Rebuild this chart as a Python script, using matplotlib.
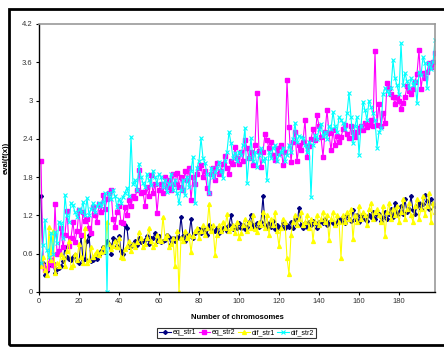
import matplotlib
matplotlib.use("Agg")
import matplotlib.pyplot as plt
from matplotlib.patches import Rectangle

plt.rcParams['font.family'] = ['Liberation Sans', 'DejaVu Sans']

eq_str1 = [
    1.50, 0.45, 0.27, 0.33, 0.42, 0.50, 0.45, 0.30, 0.36, 0.38,
    0.40, 0.48, 0.70, 0.55, 0.52, 0.50, 0.55, 0.58, 0.48, 0.45,
    0.88, 0.50, 0.52, 0.80, 0.90, 0.48, 0.50, 0.55, 0.52, 0.58,
    0.65, 0.70, 0.62, 0.80, 0.75, 0.60, 0.85, 0.82, 0.72, 0.88,
    0.65, 0.60, 1.05, 1.00, 0.70, 0.72, 0.75, 0.80, 0.74, 0.85,
    0.78, 0.80, 0.82, 0.88, 0.76, 0.85, 0.84, 0.92, 0.80, 0.88,
    0.78, 0.80, 0.82, 0.90, 0.86, 0.75, 0.85, 0.80, 0.86, 0.84,
    1.18, 0.88, 0.80, 0.90, 0.88, 1.15, 0.85, 0.92, 0.95, 0.98,
    0.92, 1.00, 0.95, 0.90, 1.05, 0.98, 0.96, 0.95, 1.00, 0.92,
    0.96, 1.00, 1.02, 0.95, 1.05, 1.20, 0.98, 1.02, 1.00, 1.08,
    1.00, 1.05, 0.98, 1.02, 1.10, 1.20, 1.05, 1.00, 1.08, 1.02,
    1.10, 1.50, 1.05, 1.00, 1.08, 1.02, 1.12, 0.98, 1.05, 1.00,
    1.02, 1.08, 1.00, 1.05, 1.02, 1.10, 1.00, 1.15, 1.05, 1.32,
    1.05, 1.00, 1.08, 1.02, 1.10, 1.05, 1.12, 1.08, 1.00, 1.10,
    1.12, 1.08, 1.15, 1.05, 1.10, 1.12, 1.08, 1.05, 1.10, 1.15,
    1.12, 1.18, 1.08, 1.20, 1.15, 1.12, 1.28, 1.15, 1.20, 1.10,
    1.18, 1.22, 1.15, 1.12, 1.20, 1.18, 1.25, 1.15, 1.20, 1.22,
    1.12, 1.18, 1.25, 1.15, 1.22, 1.30, 1.18, 1.40, 1.20, 1.25,
    1.35, 1.22, 1.45, 1.25, 1.30, 1.50, 1.28, 1.22, 1.35, 1.40,
    1.30, 1.38, 1.52, 1.42, 1.30, 1.45, 1.38, 1.35,
]

eq_str2 = [
    2.05, 0.40, 0.35, 0.38, 0.45, 0.50, 0.42, 1.38, 0.60, 0.65,
    1.00, 0.70, 0.90, 1.27, 0.72, 0.85, 1.10, 0.78, 0.95, 1.28,
    0.90, 1.25, 1.11, 1.15, 1.00, 0.92, 1.33, 1.20, 1.10, 1.38,
    1.25, 1.52, 1.30, 1.45, 1.55, 1.60, 1.15, 1.02, 1.25, 1.35,
    1.10, 1.08, 1.33, 1.20, 1.44, 1.35, 1.50, 1.47, 1.60, 1.91,
    1.55, 1.57, 1.35, 1.65, 1.50, 1.83, 1.55, 1.70, 1.24, 1.60,
    1.70, 1.55, 1.80, 1.65, 1.75, 1.60, 1.85, 1.70, 1.87, 1.65,
    1.80, 1.60, 1.90, 1.75, 1.94, 1.44, 1.80, 1.70, 1.85, 1.95,
    1.99, 1.80, 1.90, 1.63, 1.55, 1.85, 1.95, 1.75, 2.02, 1.85,
    1.90, 2.00, 2.13, 1.95, 1.85, 2.05, 2.00, 2.27, 2.10, 2.00,
    2.20, 2.05, 2.38, 2.26, 2.10, 2.19, 1.99, 2.30, 3.12, 2.21,
    1.96, 2.20, 2.48, 2.38, 2.25, 2.35, 2.15, 2.07, 2.25, 2.18,
    2.30, 1.99, 2.20, 3.32, 2.59, 2.04, 2.35, 2.51, 2.05, 2.30,
    2.22, 2.35, 2.70, 2.12, 2.29, 2.40, 2.55, 2.38, 2.77, 2.60,
    2.43, 2.12, 2.50, 2.85, 2.49, 2.22, 2.54, 2.30, 2.45, 2.35,
    2.43, 2.55, 2.62, 2.48, 2.41, 2.60, 2.51, 2.43, 2.50, 2.57,
    2.60, 2.54, 2.65, 2.58, 2.62, 2.70, 2.60, 3.78, 2.62, 2.95,
    2.60, 2.80, 2.65, 3.27, 3.20, 3.10, 3.06, 2.95, 3.05, 3.00,
    2.87, 2.96, 3.05, 3.23, 3.15, 3.10, 3.18, 3.29, 3.42, 3.80,
    3.18, 3.43, 3.35, 3.45, 3.59, 3.53, 3.60, 3.74,
]

dif_str1 = [
    0.40, 0.55, 0.35, 0.27, 1.02, 0.50, 0.95, 0.30, 0.45, 0.40,
    0.60, 0.55, 0.40, 0.65, 0.80, 0.39, 0.42, 0.60, 0.50, 0.75,
    0.55, 0.45, 1.00, 0.45, 0.50, 0.70, 0.55, 0.60, 0.65, 0.58,
    0.62, 0.70, 0.65, 1.10, 0.75, 0.68, 0.72, 0.80, 0.70, 0.85,
    0.55, 0.53, 0.68, 0.72, 0.80, 0.65, 0.75, 0.70, 0.78, 0.94,
    0.85, 0.70, 0.75, 0.85, 1.00, 0.80, 0.70, 0.75, 0.90, 0.82,
    0.80, 1.18, 0.85, 0.90, 0.70, 0.75, 0.85, 0.40, 0.95, 0.00,
    0.85, 0.80, 0.95, 0.85, 0.90, 0.62, 0.88, 0.95, 1.00, 0.85,
    0.95, 1.05, 0.90, 1.00, 1.38, 0.95, 1.05, 0.58, 0.90, 1.05,
    0.95, 1.10, 1.00, 1.22, 0.95, 1.00, 1.05, 0.92, 1.10, 0.85,
    0.92, 1.05, 1.15, 0.95, 1.10, 1.00, 1.20, 0.98, 0.94, 1.10,
    1.05, 1.25, 1.00, 1.20, 0.90, 1.15, 1.05, 1.25, 0.95, 0.72,
    1.00, 1.15, 1.10, 0.53, 0.28, 0.90, 1.10, 1.20, 1.05, 1.15,
    1.25, 1.05, 1.10, 1.20, 1.00, 1.15, 0.80, 1.10, 1.20, 1.05,
    1.15, 1.25, 1.10, 1.20, 0.82, 1.15, 1.25, 1.05, 1.20, 1.10,
    0.53, 1.20, 1.10, 1.25, 1.15, 1.30, 0.83, 1.20, 1.10, 1.35,
    1.15, 1.25, 1.20, 1.05, 1.30, 1.40, 1.15, 1.25, 1.30, 1.20,
    1.10, 1.35, 0.88, 1.25, 1.40, 1.15, 1.30, 1.20, 1.35, 1.10,
    1.25, 1.45, 1.15, 1.30, 1.40, 1.20, 1.10, 1.35, 1.45, 1.15,
    1.30, 1.50, 1.20, 1.35, 1.55, 1.10, 1.40, 1.25,
]

dif_str2 = [
    0.45, 0.74, 1.13, 0.66, 0.55, 0.92, 0.60, 0.94, 0.77, 1.10,
    1.08, 0.85, 1.52, 1.20, 1.10, 1.39, 1.36, 1.25, 1.18, 1.30,
    1.25, 1.41, 1.20, 1.47, 1.21, 1.30, 1.39, 1.25, 1.35, 1.40,
    1.35, 1.41, 1.55, 0.00, 1.55, 1.45, 1.60, 1.50, 1.33, 1.45,
    1.40, 1.49, 1.55, 1.63, 1.50, 2.43, 1.69, 1.75, 1.60, 2.01,
    1.80, 1.71, 1.65, 1.85, 1.75, 1.68, 1.90, 1.80, 1.70, 1.85,
    1.80, 1.65, 1.75, 1.57, 1.70, 1.85, 1.60, 1.75, 1.55, 1.39,
    1.60, 1.75, 1.52, 1.80, 1.65, 1.90, 2.12, 1.39, 1.95, 2.05,
    2.41, 2.10, 2.02, 1.85, 1.55, 1.95, 1.80, 1.88, 1.95, 2.04,
    1.90, 1.79, 2.05, 2.20, 2.51, 2.33, 2.10, 2.18, 2.05, 2.20,
    2.15, 2.30, 2.57, 1.71, 2.10, 2.41, 2.05, 2.20, 1.96, 2.15,
    2.25, 2.05, 2.10, 1.75, 2.20, 2.10, 2.25, 2.30, 2.05, 2.15,
    2.20, 2.26, 2.05, 2.15, 2.30, 2.20, 2.40, 2.65, 2.35, 2.45,
    2.43, 2.41, 2.30, 2.20, 2.35, 1.49, 2.30, 2.46, 2.40, 2.55,
    2.64, 2.45, 2.50, 2.40, 2.60, 2.55, 2.82, 2.60, 2.50, 2.74,
    2.70, 2.65, 2.55, 2.80, 3.12, 2.74, 2.33, 2.60, 2.74, 2.15,
    2.60, 2.98, 2.85, 2.70, 3.00, 2.90, 2.80, 2.70, 2.26, 2.50,
    2.57, 3.10, 3.20, 3.15, 3.10, 3.20, 3.63, 3.35, 3.24, 3.10,
    3.90, 3.24, 3.43, 3.30, 3.20, 3.35, 3.25, 3.30, 2.96, 3.45,
    3.40, 3.68, 3.59, 3.20, 3.59, 3.50, 3.60, 3.95,
]

x = list(range(1, len(eq_str1) + 1))
y_ticks = [0, 0.6, 1.2, 1.8, 2.4, 3.0, 3.6, 4.2]
y_labels = ["0", "0.6", "1.2", "1.8", "2.4", "3", "3.6", "4.2"]
x_ticks = list(range(0, 181, 20))

W, H = 444, 347
fig = plt.figure(figsize=(W / 100, H / 100), dpi=100)
ax = fig.add_axes([39 / W, (H - 292) / H, (435 - 39) / W, (292 - 24) / H])

ax.plot(x, eq_str1, color="#000080", lw=0.8, marker="D", ms=2.0, label="eq_str1")
ax.plot(x, eq_str2, color="#FF00FF", lw=0.8, marker="s", ms=2.8, label="eq_str2")
ax.plot(x, dif_str1, color="#FFFF00", lw=0.8, marker="^", ms=2.8, label="dif_str1")
ax.plot(x, dif_str2, color="#00FFFF", lw=0.8, marker="x", ms=2.6, mew=0.8, label="dif_str2")

ax.set_xlim(0, 198)
ax.set_ylim(0, 4.2)
ax.set_xticks(x_ticks)
ax.set_yticks(y_ticks)
ax.set_yticklabels(y_labels)
ax.tick_params(labelsize=5.5, length=2.5, width=0.8, direction="out", pad=2,
               colors="black", labelcolor="#333333")
for s in ["top", "right"]:
    ax.spines[s].set_color("#999999")
    ax.spines[s].set_linewidth(1.2)
for s in ["left", "bottom"]:
    ax.spines[s].set_color("black")
    ax.spines[s].set_linewidth(1)

ax.set_xlabel("Number of chromosomes", fontsize=5.5, fontweight="bold", labelpad=6)
ax.set_ylabel("eval(f(x))", fontsize=5.5, fontweight="bold", labelpad=9)

leg = fig.legend(loc="center", bbox_to_anchor=(236.5 / W, (H - 333) / H), ncol=4,
                 fontsize=5, frameon=True, fancybox=False, edgecolor="black",
                 handlelength=1.7, handletextpad=0.2, columnspacing=0.4,
                 borderpad=0.25, borderaxespad=0)
leg.get_frame().set_linewidth(0.8)

fig.patches.append(Rectangle((9 / W, 2 / H), 1.0, (H - 11) / H, transform=fig.transFigure,
                             fill=False, edgecolor="black", lw=2))

fig.savefig("out.png", dpi=100)
